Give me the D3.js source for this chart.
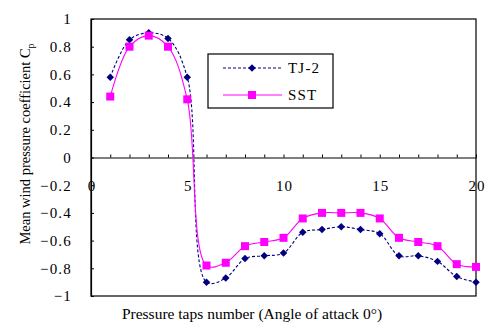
<!DOCTYPE html>
<html>
<head>
<meta charset="utf-8">
<script src="https://cdn.jsdelivr.net/npm/d3@7"></script>
<style>
  html, body { margin: 0; padding: 0; background: #fff; }
  svg { display: block; }
  .tick text { font-family: "Liberation Serif", "Times New Roman", serif; font-size: 15px; fill: #000; letter-spacing: 1.2px; }
</style>
</head>
<body>
<svg id="chart" width="494" height="332"></svg>
<script>
// ---- data ----
const taps = [1,2,3,4,5,6,7,8,9,10,11,12,13,14,15,16,17,18,19,20];
const tj2  = [0.58,0.85,0.90,0.86,0.58,-0.90,-0.87,-0.73,-0.71,-0.69,-0.54,-0.52,-0.50,-0.52,-0.55,-0.71,-0.71,-0.75,-0.86,-0.90];
const sst  = [0.44,0.80,0.88,0.80,0.42,-0.78,-0.76,-0.64,-0.61,-0.58,-0.44,-0.40,-0.40,-0.40,-0.44,-0.58,-0.61,-0.64,-0.77,-0.79];
const seriesNames = ["TJ-2","SST"];
const yTicks = [-1,-0.8,-0.6,-0.4,-0.2,0,0.2,0.4,0.6,0.8,1];
const xTicks = [0,1,2,3,4,5,6,7,8,9,10,11,12,13,14,15,16,17,18,19,20];
const xLabels = [0,5,10,15,20];
const xTitle = "Pressure taps number (Angle of attack 0°)";
const yTitle = "Mean wind pressure coefficient C";

const svg = d3.select("#chart");
const L = 91, R = 476, T = 19, B = 296;
const x = d3.scaleLinear().domain([0,20]).range([L,R]);
const y = d3.scaleLinear().domain([-1,1]).range([B,T]);

// frame
svg.append("rect").attr("x",L).attr("y",T).attr("width",R-L).attr("height",B-T)
  .attr("fill","none").attr("stroke","#000").attr("stroke-width",1.2);

// y axis
const fmtY = v => v === 0 ? "0" : (v < 0 ? "\u2212" : "") + d3.format("")(Math.abs(+v.toFixed(1)));
svg.append("g").attr("transform",`translate(${L},0)`)
  .call(d3.axisLeft(y).tickValues(yTicks).tickFormat(fmtY).tickSize(-3).tickSizeOuter(0).tickPadding(19))
  .call(g => g.select(".domain").attr("stroke","#000").attr("stroke-width",1.2))
  .call(g => g.selectAll(".tick line").attr("stroke","#000"));

// x axis at y=0
svg.append("g").attr("transform",`translate(0,${y(0)})`)
  .call(d3.axisBottom(x).tickValues(xTicks)
    .tickFormat(d => xLabels.includes(d) ? String(d) : "")
    .tickSize(-3).tickSizeOuter(0).tickPadding(23))
  .call(g => g.select(".domain").attr("stroke","#000").attr("stroke-width",1.2))
  .call(g => g.selectAll(".tick line").attr("stroke","#000"))
  .call(g => g.selectAll(".tick text").attr("dx","0.6px"));

// lines
const curve = d3.curveCatmullRom.alpha(0.5);
const lineGen = vals => d3.line().x((d,i)=>x(taps[i])).y(d=>y(d)).curve(curve)(vals);

svg.append("path").attr("d", lineGen(tj2)).attr("fill","none")
  .attr("stroke","#000080").attr("stroke-width",1.1).attr("stroke-dasharray","3,2");
svg.append("path").attr("d", lineGen(sst)).attr("fill","none")
  .attr("stroke","#FF00FF").attr("stroke-width",1.1);

const diamond = d3.symbol(d3.symbolSquare, 28)();
const square = d3.symbol(d3.symbolSquare, 64)();

svg.append("g").selectAll("path").data(tj2).join("path")
  .attr("d", diamond)
  .attr("transform",(d,i)=>`translate(${x(taps[i])},${y(d)}) rotate(45)`)
  .attr("fill","#000080");
svg.append("g").selectAll("path").data(sst).join("path")
  .attr("d", square)
  .attr("transform",(d,i)=>`translate(${x(taps[i])},${y(d)})`)
  .attr("fill","#FF00FF");

// legend
const lg = svg.append("g");
lg.append("rect").attr("x",208).attr("y",54).attr("width",125).attr("height",54)
  .attr("fill","#fff").attr("stroke","#000").attr("stroke-width",1.2);
const rows = [
  {name: seriesNames[0], y: 68, color: "#000080", dash: "3,2", sym: diamond, rot: 45},
  {name: seriesNames[1], y: 95, color: "#FF00FF", dash: null, sym: square, rot: 0}
];
rows.forEach(r => {
  lg.append("line").attr("x1",223).attr("x2",282).attr("y1",r.y).attr("y2",r.y)
    .attr("stroke",r.color).attr("stroke-width",1.1).attr("stroke-dasharray",r.dash);
  lg.append("path").attr("d",r.sym).attr("transform",`translate(252,${r.y}) rotate(${r.rot})`).attr("fill",r.color);
  lg.append("text").attr("x",288).attr("y",r.y+5).text(r.name)
    .attr("font-family","'Liberation Serif', serif").attr("font-size","15px").attr("letter-spacing","1.2px");
});

// titles
svg.append("text").attr("x",252).attr("y",319).attr("text-anchor","middle")
  .attr("font-family","'Liberation Serif','Times New Roman',serif").attr("font-size","15.5px")
  .attr("fill","#000").text(xTitle);

const yt = svg.append("text").attr("transform","translate(30,144) rotate(-90)").attr("text-anchor","middle")
  .attr("font-family","'Liberation Serif','Times New Roman',serif").attr("font-size","14.5px").attr("fill","#000");
yt.append("tspan").text(yTitle);
yt.append("tspan").attr("font-size","10px").attr("dy","4").text("p");
</script>
</body>
</html>
